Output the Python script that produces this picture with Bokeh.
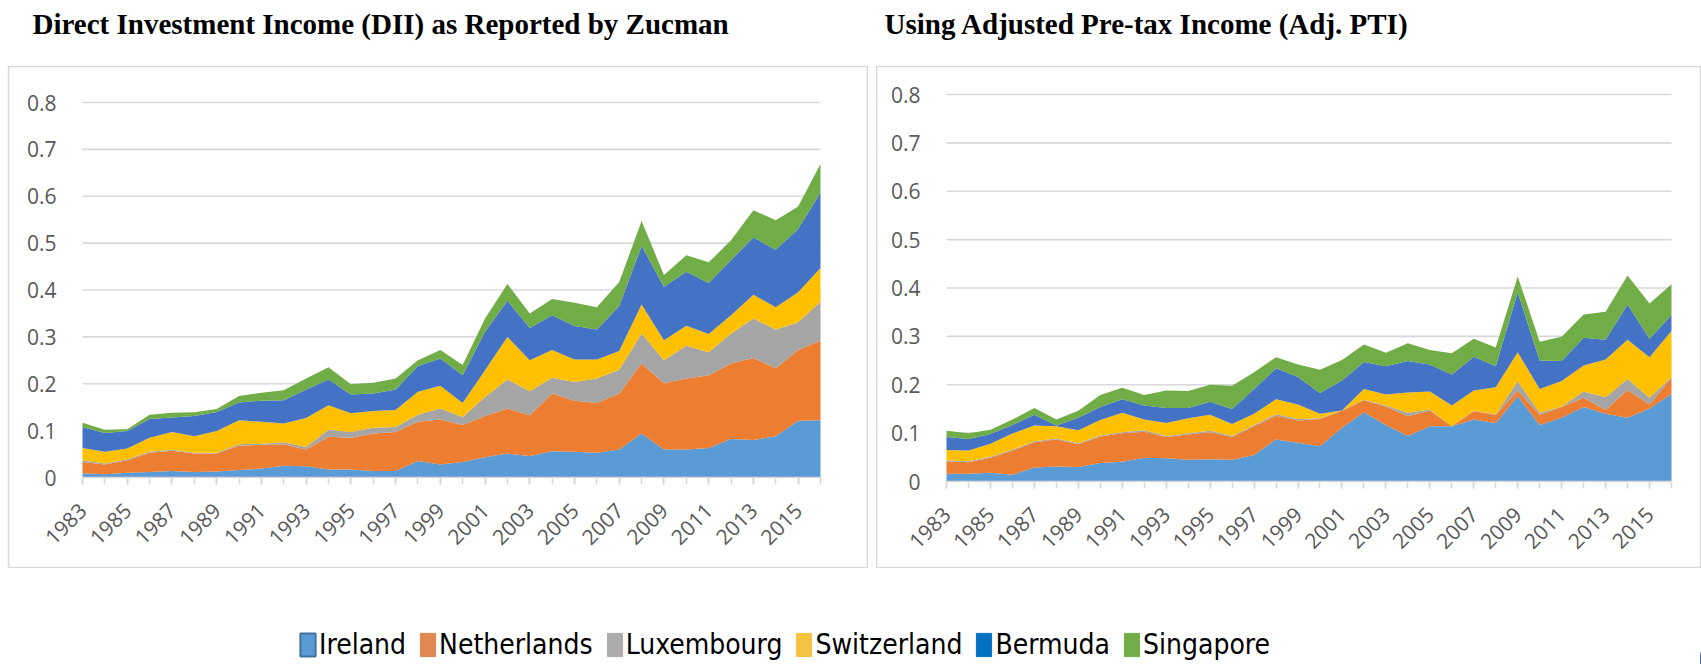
import math
from bokeh.plotting import figure
from bokeh.models import (ColumnDataSource, FixedTicker, NumeralTickFormatter,
                          Legend, LegendItem, Range1d)
from bokeh.layouts import column, row
from bokeh.embed import file_html
from bokeh.resources import INLINE

# ---------------- data ----------------
years = list(range(1983, 2017))
countries = ["Ireland", "Netherlands", "Luxembourg", "Switzerland", "Bermuda", "Singapore"]
area_colors = ["#5B9BD5", "#ED7D31", "#A5A5A5", "#FFC000", "#4472C4", "#70AD47"]
legend_fill = ["#5B9BD5", "#E0884F", "#AEABAB", "#F5C342", "#0070C0", "#70AD47"]
legend_line = ["#41719C", "#E0884F", "#AEABAB", "#F5C342", "#0070C0", "#70AD47"]

title_dii = "Direct Investment Income (DII) as Reported by Zucman"
title_pti = "Using Adjusted Pre-tax Income (Adj. PTI)"

dii_ireland = [.009, .007, .010, .012, .014, .012, .013, .016, .019, .025, .024, .017, .017, .014, .014, .035, .028,
               .033, .043, .051, .046, .056, .055, .053, .060, .094, .060, .060, .063, .082, .080, .088, .121, .122]
dii_netherlands = [.024, .021, .027, .041, .043, .039, .038, .052, .051, .046, .036, .070, .068, .080, .083, .084, .096,
                   .079, .088, .096, .087, .123, .109, .106, .119, .149, .141, .151, .155, .161, .175, .145, .151, .170]
dii_luxembourg = [.004, .002, .002, .002, .002, .002, .002, .003, .002, .004, .005, .015, .012, .012, .011, .015, .023,
                  .017, .041, .062, .051, .034, .040, .052, .051, .064, .049, .070, .049, .064, .084, .083, .059, .083]
dii_switzerland = [.026, .025, .023, .030, .038, .035, .046, .051, .047, .040, .062, .052, .040, .036, .036, .049, .049,
                   .030, .057, .091, .066, .059, .048, .041, .040, .062, .043, .043, .039, .039, .051, .047, .064, .072]
dii_bermuda = [.045, .040, .037, .040, .031, .043, .041, .038, .045, .050, .061, .055, .040, .037, .044, .055, .058,
               .059, .082, .077, .069, .074, .071, .064, .096, .125, .114, .115, .109, .118, .122, .123, .135, .161]
dii_singapore = [.009, .007, .004, .009, .010, .008, .006, .014, .017, .021, .023, .026, .022, .023, .023, .012, .018,
                 .022, .028, .036, .031, .035, .050, .047, .051, .053, .025, .035, .044, .042, .058, .063, .048, .061]

pti_ireland = [.016, .016, .018, .014, .029, .031, .030, .038, .041, .049, .048, .045, .046, .045, .055, .087, .080,
               .073, .111, .143, .117, .094, .114, .114, .128, .121, .176, .117, .132, .154, .140, .132, .151, .181]
pti_netherlands = [.026, .024, .031, .050, .052, .056, .047, .055, .059, .054, .044, .052, .056, .047, .059, .049, .046,
                   .056, .035, .025, .038, .041, .033, .000, .017, .017, .012, .021, .022, .019, .008, .057, .008, .033]
pti_luxembourg = [.002, .002, .002, .002, .002, .002, .002, .002, .002, .003, .002, .003, .003, .002, .003, .003, .003,
                  .002, .001, .001, .002, .007, .002, .000, .001, .001, .019, .004, .001, .013, .026, .023, .014, .002]
pti_switzerland = [.021, .022, .027, .033, .033, .025, .027, .032, .040, .022, .027, .031, .033, .025, .023, .031, .030,
                   .009, .000, .022, .023, .042, .037, .043, .042, .056, .060, .049, .053, .054, .078, .081, .084, .095]
pti_bermuda = [.027, .024, .020, .018, .022, .002, .026, .027, .028, .029, .031, .021, .027, .031, .051, .064, .057,
               .043, .062, .056, .058, .065, .056, .064, .070, .043, .124, .059, .041, .057, .041, .073, .038, .033]
pti_singapore = [.013, .012, .009, .011, .014, .012, .014, .025, .024, .022, .036, .035, .035, .048, .035, .023, .026,
                 .048, .042, .036, .028, .037, .030, .044, .037, .039, .033, .039, .050, .048, .058, .060, .073, .064]

yticks = [0, 0.1, 0.2, 0.3, 0.4, 0.5, 0.6, 0.7, 0.8]
xtick_years = list(range(1983, 2016, 2))

GRID = "#D9D9D9"
TICK_TXT = "#595959"
TICK_FONT = "Open Sans"

FRAME_TOP = 66      # page y of chart frame top
FRAME_BOTTOM = 568  # page y of chart frame bottom


def make_title(title, width, left_pad, title_offset):
    t = figure(width=width, height=FRAME_TOP, output_backend="svg", toolbar_location=None,
               x_range=Range1d(0, 1), y_range=Range1d(0, 1),
               min_border_left=left_pad, min_border_right=0, min_border_bottom=0, min_border_top=0,
               outline_line_color=None)
    t.axis.visible = False
    t.grid.visible = False
    t.title.text = title
    t.title.text_font = "Liberation Serif"
    t.title.text_font_style = "bold"
    t.title.text_font_size = "29px"
    t.title.align = "left"
    t.title.vertical_align = "top"
    t.title.offset = title_offset
    t.title.standoff = 14
    t.title.text_color = "#000000"
    return t


def make_chart(values, width, left_pad, x0_px, x1_px, y0_px, y8_px):
    fh = FRAME_BOTTOM - FRAME_TOP
    fw = width - left_pad
    ppy = (x1_px - x0_px) / (years[-1] - years[0])
    xs = years[0] - x0_px / ppy
    ppu = (y0_px - y8_px) / yticks[-1]
    ys = -(fh - y0_px) / ppu
    p = figure(width=width, height=fh, output_backend="svg", toolbar_location=None,
               x_range=Range1d(xs, xs + fw / ppy), y_range=Range1d(ys, ys + fh / ppu),
               min_border_left=left_pad, min_border_right=0, min_border_bottom=0,
               min_border_top=0,
               outline_line_color=GRID, outline_line_width=1.5)
    p.grid.visible = False

    n = len(yticks) - 1
    p.segment(x0=[years[0]] * n, x1=[years[-1]] * n, y0=yticks[1:], y1=yticks[1:],
              line_color=GRID, line_width=1.6)

    src = ColumnDataSource(dict(year=years, **dict(zip(countries, values))))
    p.varea_stack(stackers=countries, x="year", color=area_colors, source=src)

    xa = p.xaxis[0]
    xa.fixed_location = 0
    xa.bounds = (years[0], years[-1])
    xa.ticker = FixedTicker(ticks=xtick_years, minor_ticks=years)
    xa.axis_line_color = GRID
    xa.axis_line_width = 1.6
    xa.major_tick_line_color = GRID
    xa.minor_tick_line_color = GRID
    xa.major_tick_line_width = 1.6
    xa.minor_tick_line_width = 1.6
    xa.major_tick_in = 0
    xa.minor_tick_in = 0
    xa.major_tick_out = 7
    xa.minor_tick_out = 7
    xa.major_label_orientation = math.pi / 4
    xa.major_label_standoff = 22
    xa.major_label_text_font = TICK_FONT
    xa.major_label_text_font_size = "21px"
    xa.major_label_text_color = TICK_TXT

    ya = p.yaxis[0]
    ya.fixed_location = years[0]
    ya.ticker = FixedTicker(ticks=yticks)
    ya.formatter = NumeralTickFormatter(format="0.[0]")
    ya.axis_line_color = None
    ya.major_tick_line_color = None
    ya.minor_tick_line_color = None
    ya.major_label_standoff = 20
    ya.major_label_text_font = TICK_FONT
    ya.major_label_text_font_size = "21px"
    ya.major_label_text_color = TICK_TXT
    return p, src


t1 = make_title(title_dii, 868, 8, 24)
t2 = make_title(title_pti, 825, 0, 8)
p1, src1 = make_chart([dii_ireland, dii_netherlands, dii_luxembourg, dii_switzerland, dii_bermuda, dii_singapore],
                      868, 8, 74, 812, 411, 36)
p2, src2 = make_chart([pti_ireland, pti_netherlands, pti_luxembourg, pti_switzerland, pti_bermuda, pti_singapore],
                      825, 0, 70, 795, 415, 28)

# legend strip (its own figure; the stacked bars lie outside its visible range)
lp = figure(width=1701, height=664 - FRAME_BOTTOM, output_backend="svg", toolbar_location=None,
            x_range=Range1d(0, 1), y_range=Range1d(0, 1),
            min_border_left=0, min_border_right=0, min_border_bottom=0, min_border_top=0,
            outline_line_color=None)
lp.axis.visible = False
lp.grid.visible = False
rs = lp.vbar_stack(stackers=countries, x="year", width=0.8, source=src1,
                   fill_color=legend_fill, line_color=legend_line,
                   line_width=[2, 1, 1, 1, 1, 1])
items = [LegendItem(label=name, renderers=[r]) for name, r in zip(countries, rs)]
legend = Legend(items=items, orientation="horizontal", location=(298, 3),
                padding=0, margin=0, spacing=12, label_standoff=2,
                glyph_width=19, glyph_height=29, label_height=30,
                border_line_color=None, background_fill_alpha=0,
                label_text_font="Liberation Sans Narrow, DejaVu Sans Condensed, Roboto, sans-serif",
                label_text_font_size="28px", label_text_color="#000000")
lp.add_layout(legend)

layout = column(row(t1, t2, spacing=8), row(p1, p2, spacing=8), lp, spacing=0)

with open("out.html", "w") as f:
    f.write(file_html(layout, INLINE))
